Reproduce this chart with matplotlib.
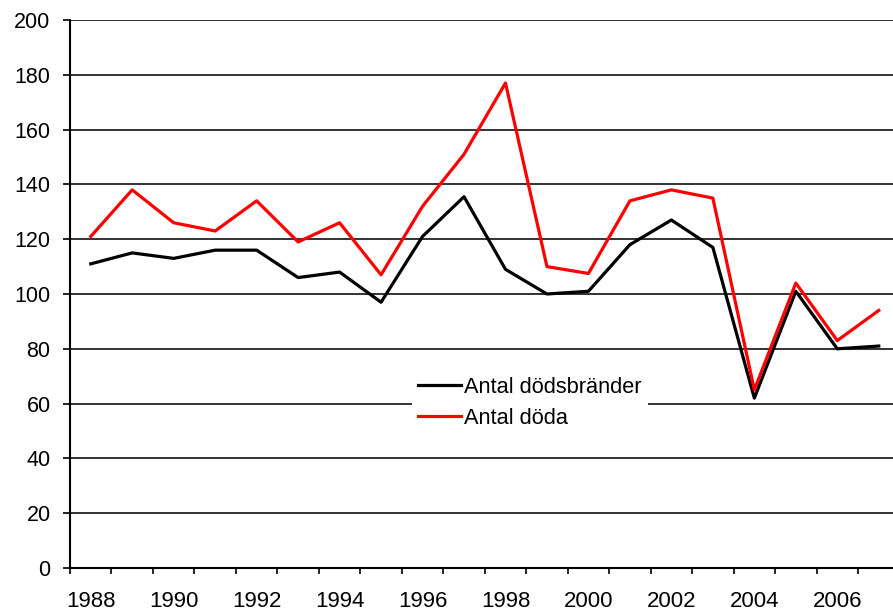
import matplotlib
matplotlib.use("Agg")
import matplotlib.pyplot as plt
import numpy as np

plt.rcParams['font.family'] = ['Liberation Sans', 'DejaVu Sans']

years = list(range(1988, 2008))
brander = [111, 115, 113, 116, 116, 106, 108, 97, 121, 135.5, 109, 100, 101, 118, 127, 117, 62, 101, 80, 81]
doda = [121, 138, 126, 123, 134, 119, 126, 107, 132, 151, 177, 110, 107.5, 134, 138, 135, 65, 104, 83, 94]
ytick_vals = list(range(0, 201, 20))
xtick_labels = [str(y) for y in years[::2]]

fig = plt.figure(figsize=(8.93, 6.13), dpi=100)
ax = fig.add_axes([70 / 893, 1 - 568 / 613, (899.5 - 70) / 893, (568 - 20) / 613])

x = np.arange(len(years))
ax.plot(x, brander, color='black', lw=2.3, label='Antal dödsbränder', zorder=3)
ax.plot(x, doda, color='#ff0000', lw=2.3, label='Antal döda', zorder=3)

ax.set_ylim(0, 200)
ax.set_xlim(-0.5, len(years) - 0.5)
ax.set_yticks(ytick_vals)
ax.set_yticklabels([str(v) for v in ytick_vals])
ax.yaxis.grid(True, color='#111111', lw=1.2)
ax.set_axisbelow(True)

ax.set_xticks(x[::2])
ax.set_xticklabels(xtick_labels)
ax.set_xticks(np.arange(-0.5, len(years) + 0.5, 1), minor=True)
ax.tick_params(axis='x', which='major', length=0, pad=16.5, labelsize=16)
ax.tick_params(axis='x', which='minor', length=4.5, width=1.2, direction='out')
ax.tick_params(axis='y', length=5, width=1.2, pad=9, labelsize=15.5)

for s in ['top', 'right']:
    ax.spines[s].set_visible(False)
for s in ['left', 'bottom']:
    ax.spines[s].set_linewidth(1.5)

leg = ax.legend(loc='center', bbox_to_anchor=(530 / 893, 1 - 403 / 613),
                bbox_transform=fig.transFigure, frameon=True, fontsize=15.7,
                handlelength=1.95, handletextpad=0.15, labelspacing=0.45,
                borderpad=0.3, fancybox=False)
leg.get_frame().set_edgecolor('none')
leg.get_frame().set_facecolor('white')
leg.get_frame().set_alpha(1)

fig.savefig('out.png', dpi=100)
